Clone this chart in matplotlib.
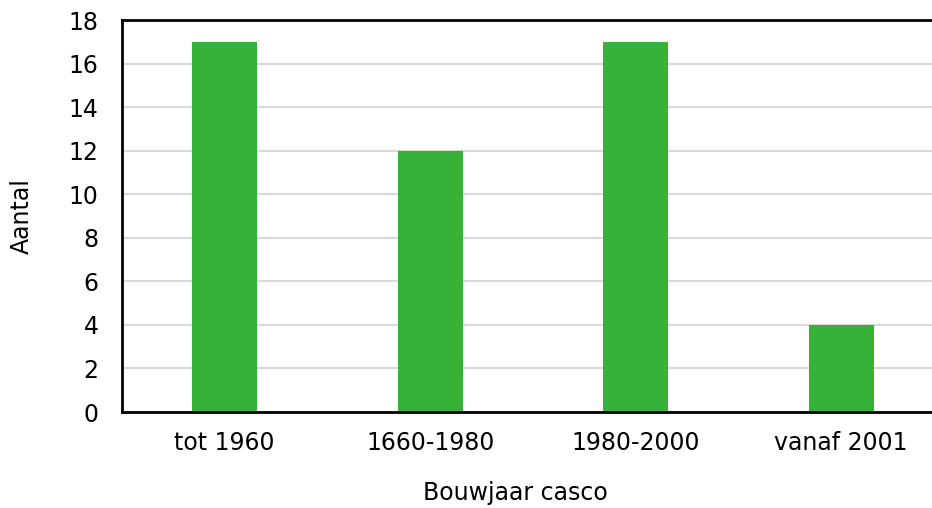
import matplotlib.pyplot as plt

categories = ['tot 1960', '1660-1980', '1980-2000', 'vanaf 2001']
counts = [17, 12, 17, 4]
y_ticks = [0, 2, 4, 6, 8, 10, 12, 14, 16, 18]

W, H = 932, 508
fig = plt.figure(figsize=(W / 100, H / 100), dpi=100)
ax = fig.add_axes([122 / W, 1 - 412 / H, 1 - 122 / W, 392 / H])

positions = range(len(categories))
ax.bar(positions, counts, width=0.315, color='#36b336', zorder=2)

ax.set_xlim(-0.5, 3 + (W - 841) / 206)
ax.set_ylim(0, 18)
ax.set_yticks(y_ticks)
ax.set_xticks(list(positions))
ax.set_xticklabels(categories)
ax.yaxis.grid(True, color='#d9d9d9', linewidth=1.5, zorder=0)
ax.set_axisbelow(True)

ax.spines['right'].set_visible(False)
for side in ['left', 'bottom', 'top']:
    ax.spines[side].set_linewidth(2)
    ax.spines[side].set_color('black')
ax.tick_params(length=0, labelsize=17)
ax.tick_params(axis='y', pad=17)
ax.tick_params(axis='x', pad=14)

ax.set_ylabel('Aantal', fontsize=17, va='center')
ax.yaxis.set_label_coords((22 - 122) / (W - 122), 0.5)
ax.set_xlabel('Bouwjaar casco', fontsize=17, va='center')
ax.xaxis.set_label_coords((515 - 122) / (W - 122), -(493 - 412) / 392)

fig.savefig('out.png', dpi=100)
